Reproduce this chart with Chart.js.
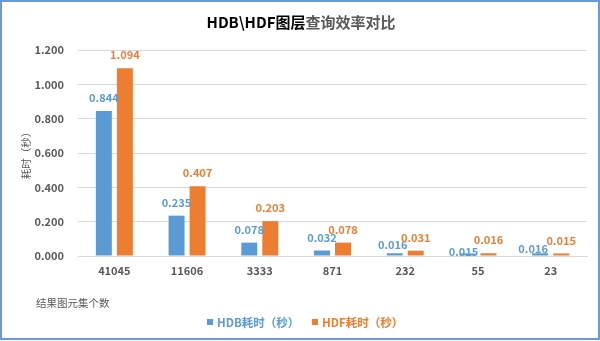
<!DOCTYPE html>
<html>
<head>
<meta charset="utf-8">
<script src="https://cdn.jsdelivr.net/npm/chart.js@4"></script>
<style>
  html, body { margin: 0; padding: 0; background: #fff; }
  canvas { display: block; }
</style>
</head>
<body>
<canvas id="c" width="600" height="341"></canvas>
<script>
const categories = ['41045', '11606', '3333', '871', '232', '55', '23'];
const hdbValues = [0.844, 0.235, 0.078, 0.032, 0.016, 0.015, 0.016];
const hdfValues = [1.094, 0.407, 0.203, 0.078, 0.031, 0.016, 0.015];
const seriesNames = ['HDB耗时（秒）', 'HDF耗时（秒）'];
const yTitle = '耗时（秒）';
const xTitle = '结果图元集个数';
const titleParts = ['HDB\\HDF图层', '查询效率对比'];

const BLUE = '#5B9BD5';
const ORANGE = '#ED7D31';
const GREY = '#595959';
const FONT = "'Noto Sans CJK SC', 'Noto Sans', sans-serif";

// label nudges (Excel overlap avoidance) for the first series
const labelNudge = [
  [[0, 0], [0, 0], [0, 0], [0, 0], [-2, 4.5], [-4, 11], [-7, 8.5]],
  [[0, 0], [0, 0], [0, 0], [0, 0], [0, 0], [0, 0], [0, 0]]
];

const decor = {
  id: 'decor',
  afterDatasetsDraw(chart) {
    const ctx = chart.ctx;
    ctx.save();
    // data labels
    chart.data.datasets.forEach((ds, di) => {
      const meta = chart.getDatasetMeta(di);
      ctx.font = 'bold 11px ' + FONT;
      ctx.fillStyle = ds.backgroundColor;
      ctx.textAlign = 'center';
      ctx.textBaseline = 'middle';
      meta.data.forEach((el, i) => {
        const n = labelNudge[di][i];
        ctx.fillText(ds.data[i].toFixed(3), el.x + n[0], el.y - 13 + n[1]);
      });
    });
    ctx.restore();
  },
  afterDraw(chart) {
    const ctx = chart.ctx;
    ctx.save();
    // title (two colours)
    ctx.font = 'bold 15px ' + FONT;
    ctx.textBaseline = 'middle';
    const w1 = ctx.measureText(titleParts[0]).width;
    const w2 = ctx.measureText(titleParts[1]).width;
    let tx = 301 - (w1 + w2) / 2;
    ctx.textAlign = 'left';
    ctx.fillStyle = '#000';
    ctx.fillText(titleParts[0], tx, 22);
    ctx.fillStyle = GREY;
    ctx.fillText(titleParts[1], tx + w1, 22);
    // x axis title
    ctx.font = '10.5px ' + FONT;
    ctx.fillStyle = GREY;
    ctx.fillText(xTitle, 36, 303);
    // legend
    ctx.font = 'bold 11.5px ' + FONT;
    const lx = [207, 312];
    chart.data.datasets.forEach((ds, di) => {
      ctx.fillStyle = ds.backgroundColor;
      ctx.fillRect(lx[di], 319, 6, 6);
      ctx.fillText(ds.label, lx[di] + 10, 322.5);
    });
    // border
    ctx.strokeStyle = '#6A9BD8';
    ctx.lineWidth = 2;
    ctx.strokeRect(1, 1, 598, 338);
    ctx.restore();
  }
};

new Chart(document.getElementById('c'), {
  type: 'bar',
  data: {
    labels: categories,
    datasets: [
      { label: seriesNames[0], data: hdbValues, backgroundColor: BLUE,
        categoryPercentage: 0.578, barPercentage: 0.76 },
      { label: seriesNames[1], data: hdfValues, backgroundColor: ORANGE,
        categoryPercentage: 0.578, barPercentage: 0.76 }
    ]
  },
  options: {
    responsive: false,
    animation: false,
    layout: { padding: { left: 0, right: 13, top: 50, bottom: 50 } },
    plugins: {
      legend: { display: false },
      title: { display: false },
      tooltip: { enabled: false }
    },
    scales: {
      x: {
        afterFit(s) { s.height = 35; },
        grid: { display: false, drawTicks: false },
        border: { display: true, color: '#D9D9D9', width: 1 },
        ticks: { color: GREY, font: { family: FONT, size: 11, weight: 'bold' }, padding: 8, maxRotation: 0 }
      },
      y: {
        min: 0, max: 1.2,
        afterFit(s) { s.width = 78; },
        grid: { color: '#D9D9D9', drawTicks: false },
        border: { display: false },
        ticks: {
          stepSize: 0.2, padding: 14, color: GREY,
          font: { family: FONT, size: 11, weight: 'bold' },
          callback: v => Number(v).toFixed(3)
        },
        title: {
          display: true, text: yTitle, color: GREY,
          font: { family: FONT, size: 10.5 },
          padding: { top: 20, bottom: 0 }
        }
      }
    }
  },
  plugins: [decor]
});
</script>
</body>
</html>
